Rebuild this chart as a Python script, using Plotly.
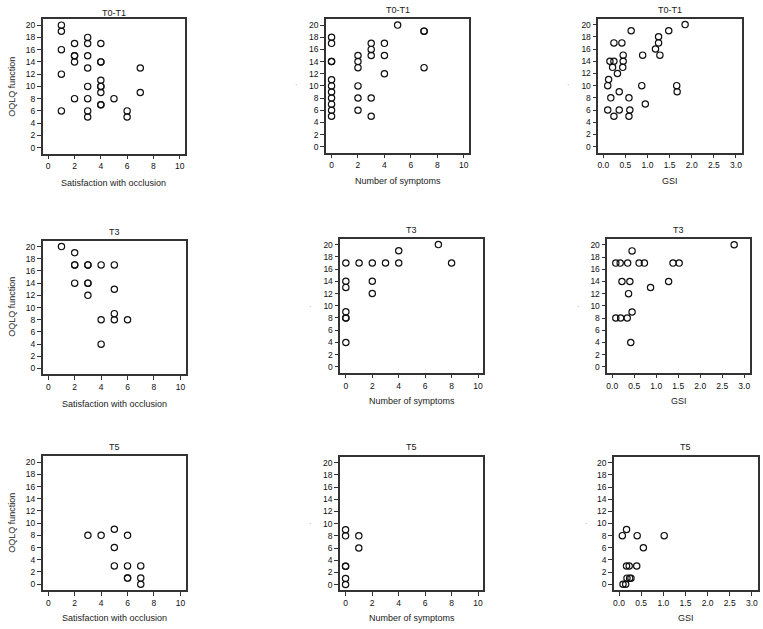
import plotly.graph_objects as go

# ---------------- data ----------------
# T0-T1
t01_sat_x = [1, 1, 1, 1, 1, 2, 2, 2, 2, 2, 3, 3, 3, 3, 3, 3, 3, 3, 4, 4, 4, 4, 4, 4, 4, 4, 4, 5, 6, 6, 7, 7]
t01_sat_y = [20, 19, 16, 12, 6, 17, 15, 15, 14, 8, 18, 17, 15, 13, 10, 8, 6, 5, 17, 14, 14, 11, 10, 10, 9, 7, 7, 8, 6, 5, 13, 9]

t01_sym_x = [0, 0, 0, 0, 0, 0, 0, 0, 0, 0, 0, 2, 2, 2, 2, 2, 2, 3, 3, 3, 3, 3, 4, 4, 4, 5, 7, 7, 7]
t01_sym_y = [18, 17, 14, 14, 11, 10, 9, 8, 7, 6, 5, 15, 14, 13, 10, 8, 6, 17, 16, 15, 8, 5, 17, 15, 12, 20, 19, 19, 13]

t01_gsi_x = [1.85, 0.63, 1.48, 1.25, 0.24, 0.42, 1.25, 1.18, 0.45, 0.89, 1.28, 0.15, 0.24, 0.45,
             0.21, 0.44, 0.32, 0.12, 0.10, 0.87, 1.66, 0.36, 1.67, 0.17, 0.58, 0.95, 0.10, 0.36,
             0.60, 0.24, 0.58]
t01_gsi_y = [20, 19, 19, 18, 17, 17, 17, 16, 15, 15, 15, 14, 14, 14,
             13, 13, 12, 11, 10, 10, 10, 9, 9, 8, 8, 7, 6, 6,
             6, 5, 5]

# T3
t3_sat_x = [1, 2, 2, 2, 2, 3, 3, 3, 3, 3, 4, 4, 4, 5, 5, 5, 5, 6]
t3_sat_y = [20, 19, 17, 17, 14, 17, 17, 14, 14, 12, 17, 8, 4, 17, 13, 9, 8, 8]

t3_sym_x = [0, 0, 0, 0, 0, 0, 0, 1, 2, 2, 2, 3, 4, 4, 7, 8]
t3_sym_y = [17, 14, 13, 9, 8, 8, 4, 17, 17, 14, 12, 17, 19, 17, 20, 17]

t3_gsi_x = [2.77, 0.45, 0.08, 0.18, 0.35, 0.61, 0.73, 1.38, 1.52, 0.22, 0.40, 1.28, 0.87, 0.37,
            0.45, 0.08, 0.19, 0.34, 0.42]
t3_gsi_y = [20, 19, 17, 17, 17, 17, 17, 17, 17, 14, 14, 14, 13, 12,
            9, 8, 8, 8, 4]

# T5
t5_sat_x = [3, 4, 5, 5, 5, 6, 6, 6, 6, 7, 7, 7]
t5_sat_y = [8, 8, 9, 6, 3, 8, 3, 1, 1, 3, 1, 0]

t5_sym_x = [0, 0, 0, 0, 0, 0, 1, 1]
t5_sym_y = [9, 8, 3, 3, 1, 0, 8, 6]

t5_gsi_x = [0.075, 0.17, 0.41, 1.02, 0.55, 0.17, 0.23, 0.40, 0.18, 0.24, 0.27, 0.09, 0.15]
t5_gsi_y = [8, 9, 8, 8, 6, 3, 3, 3, 1, 1, 1, 0, 0]

titles = ["T0-T1", "T0-T1", "T0-T1", "T3", "T3", "T3", "T5", "T5", "T5"]
x_titles = ["Satisfaction with occlusion", "Number of symptoms", "GSI"] * 3
y_title = "OQLQ function"
count_ticks = [0, 2, 4, 6, 8, 10]
gsi_ticks = [0.0, 0.5, 1.0, 1.5, 2.0, 2.5, 3.0]
gsi_ticktext = ["0.0", "0.5", "1.0", "1.5", "2.0", "2.5", "3.0"]
y_ticks = [0, 2, 4, 6, 8, 10, 12, 14, 16, 18, 20]

series = [
    (t01_sat_x, t01_sat_y), (t01_sym_x, t01_sym_y), (t01_gsi_x, t01_gsi_y),
    (t3_sat_x, t3_sat_y), (t3_sym_x, t3_sym_y), (t3_gsi_x, t3_gsi_y),
    (t5_sat_x, t5_sat_y), (t5_sym_x, t5_sym_y), (t5_gsi_x, t5_gsi_y),
]

# ---------------- layout geometry (pixels) ----------------
W, H = 763, 629
frames = [
    (42.7, 185.0, 19.0, 153.5), (326.0, 469.0, 19.0, 152.5), (598.3, 741.7, 18.5, 152.5),
    (42.7, 185.7, 240.5, 374.3), (340.3, 483.3, 238.5, 372.7), (607.3, 750.0, 238.7, 372.7),
    (42.7, 185.7, 456.0, 590.0), (340.0, 483.3, 456.7, 590.3), (614.0, 757.7, 456.7, 590.0),
]
title_y = [12.7, 10.5, 10.5, 232.0, 229.5, 229.5, 447.3, 447.3, 447.3]
xtitle_y = [182.7, 180.5, 180.5, 403.5, 400.5, 400.5, 618.3, 618.3, 618.3]
dot_pos = [None, (296, 85), (568, 85), None, (310, 306), (578, 306), None, (310, 523), (586, 523)]
ytitle_pos = [(11.7, 87), None, None, (11.7, 307), None, None, (11.7, 523), None, None]

fx = lambda p: p / W
fy = lambda p: 1 - p / H
FONT = "Liberation Sans, Arial, sans-serif"

fig = go.Figure()
annotations = []
layout_axes = {}

for i, ((xs, ys), (l, r, t, b)) in enumerate(zip(series, frames)):
    n = i + 1
    xa = "x" if n == 1 else f"x{n}"
    ya = "y" if n == 1 else f"y{n}"
    fig.add_trace(go.Scatter(
        x=xs, y=ys, mode="markers", xaxis=xa, yaxis=ya, showlegend=False,
        marker=dict(symbol="circle-open", size=6.3, color="#111111",
                    line=dict(width=1.2, color="#111111")),
        hoverinfo="x+y",
    ))
    is_gsi = (i % 3 == 2)
    xaxis = dict(
        domain=[fx(l), fx(r)], anchor=ya,
        range=[-0.113, 3.13] if is_gsi else [-0.42, 10.4],
        tickvals=gsi_ticks if is_gsi else count_ticks,
        ticktext=gsi_ticktext if is_gsi else [str(v) for v in count_ticks],
        ticks="outside", ticklen=4, tickwidth=1, tickcolor="#333333",
        showline=True, mirror=True, linecolor="#333333", linewidth=1.5,
        showgrid=False, zeroline=False,
        tickfont=dict(family=FONT, size=8.5, color="#111111"),
    )
    yaxis = dict(
        domain=[fy(b), fy(t)], anchor=xa,
        range=[-0.95, 21.0],
        tickvals=y_ticks,
        ticks="outside", ticklen=4, tickwidth=1, tickcolor="#333333",
        showline=True, mirror=True, linecolor="#333333", linewidth=1.5,
        showgrid=False, zeroline=False,
        tickfont=dict(family=FONT, size=8.5, color="#111111"),
    )
    layout_axes["xaxis" if n == 1 else f"xaxis{n}"] = xaxis
    layout_axes["yaxis" if n == 1 else f"yaxis{n}"] = yaxis

    cx = (l + r) / 2
    annotations.append(dict(text=titles[i], x=fx(cx), y=fy(title_y[i]), xref="paper", yref="paper",
                            showarrow=False, xanchor="center", yanchor="middle",
                            font=dict(family=FONT, size=9, color="#222222")))
    annotations.append(dict(text=x_titles[i], x=fx(cx), y=fy(xtitle_y[i]), xref="paper", yref="paper",
                            showarrow=False, xanchor="center", yanchor="middle",
                            font=dict(family=FONT, size=9, color="#222222")))
    if ytitle_pos[i]:
        px, py = ytitle_pos[i]
        annotations.append(dict(text=y_title, x=fx(px), y=fy(py), xref="paper", yref="paper",
                                showarrow=False, xanchor="center", yanchor="middle", textangle=-90,
                                font=dict(family=FONT, size=9, color="#222222")))
    if dot_pos[i]:
        px, py = dot_pos[i]
        annotations.append(dict(text="·", x=fx(px), y=fy(py), xref="paper", yref="paper",
                                showarrow=False, xanchor="center", yanchor="middle",
                                font=dict(family=FONT, size=8, color="#999999")))

fig.update_layout(
    width=W, height=H, margin=dict(l=0, r=0, t=0, b=0),
    paper_bgcolor="white", plot_bgcolor="white",
    annotations=annotations, **layout_axes,
)

fig.write_html("out.html")
